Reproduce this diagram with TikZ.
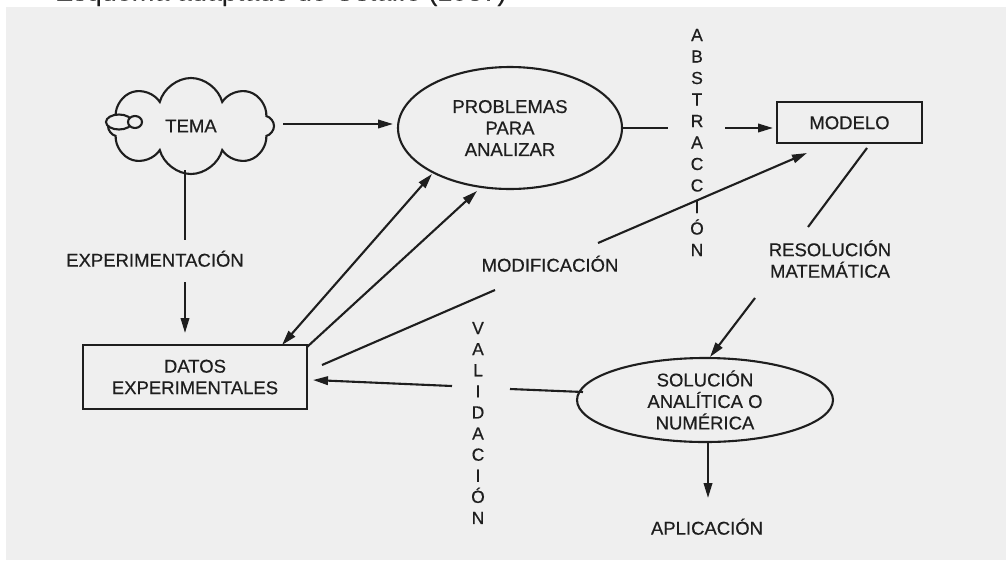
\documentclass[tikz,border=0pt]{standalone}
\usepackage{fontspec}
\setmainfont[FakeBold=0.5]{Liberation Sans}
\usetikzlibrary{arrows.meta,shapes.geometric,shapes.symbols}
\definecolor{paper}{HTML}{EFEFEF}
\definecolor{ink}{HTML}{1E1E1E}
\begin{document}
\begin{tikzpicture}[x=1pt,y=-1pt,
  lbl/.style={font=\fontsize{18.5}{21.5}\selectfont, text=ink, align=center, inner sep=0pt},
  one/.style={lbl, text height=13.3pt, text depth=0pt},
  col/.style={font=\fontsize{17.5}{#1}\selectfont, text=ink, align=center, inner sep=0pt},
  wire/.style={draw=ink, line width=2.1pt},
  tip/.tip={Triangle[length=15pt,width=8.5pt]},
  arr/.style={wire, -tip},
  darr/.style={wire, tip-tip},
  framed/.style={draw=ink, line width=2.1pt},
]
\useasboundingbox (0,0) rectangle (1006,560);
\clip (0,0) rectangle (1006,560);
\fill[white] (0,0) rectangle (1006,560);
\fill[paper] (6,7) rectangle (1006,560);

% caption line running off the top edge
\node[anchor=base west, font=\fontsize{27}{27}\selectfont, text=ink, inner sep=0pt] (caption) at (55,0.5) {Esquema adaptado de Ostaffe (1987)};

% main nodes
\node[cloud, cloud puffs=8, cloud puff arc=150, aspect=1.8, framed, fill=paper,
      minimum width=166pt, minimum height=96pt, lbl] (tema) at (191,126) {TEMA};
\fill[paper, framed] (119,122) ellipse [x radius=13, y radius=7.5];
\fill[paper, framed] (135,122) ellipse [x radius=7, y radius=6];

\node[ellipse, framed, minimum width=224pt, minimum height=122pt, lbl] (prob) at (510,128) {PROBLEMAS\\PARA\\ANALIZAR};
\node[rectangle, framed, minimum width=145pt, minimum height=41pt, one] (modelo) at (849.5,122.5) {MODELO};
\node[rectangle, framed, minimum width=224pt, minimum height=64pt, lbl] (datos) at (195,377) {DATOS\\EXPERIMENTALES};
\node[ellipse, framed, minimum width=256pt, minimum height=84pt, lbl] (sol) at (705,400) {SOLUCIÓN\\ANALÍTICA O\\NUMÉRICA};

% labels
\node[one] (exper) at (155,260) {EXPERIMENTACIÓN};
\node[one] (modif) at (550,265) {MODIFICACIÓN};
\node[lbl] (resol) at (830,259) {RESOLUCIÓN\\MATEMÁTICA};
\node[one] (aplic) at (707,528) {APLICACIÓN};
\node[col=21.5] (abstr) at (697,142.5) {A\\B\\S\\T\\R\\A\\C\\C\\I\\Ó\\N};
\node[col=21.1] (valid) at (478,423) {V\\A\\L\\I\\D\\A\\C\\I\\Ó\\N};

% connectors
\draw[arr] ([shift={(92,-2)}]tema.center) -- ([shift={(-117,-4)}]prob.center);
\draw[wire] ([shift={(-6,44)}]tema.center) -- ([shift={(30,-20)}]exper.center);
\draw[arr] ([shift={(30,22)}]exper.center) -- ([shift={(-10,-44)}]datos.center);
\draw[darr] ([shift={(87,-32)}]datos.center) -- ([shift={(-78,46)}]prob.center);
\draw[arr] ([shift={(112,-30)}]datos.center) -- ([shift={(-33,63)}]prob.center);
\draw[wire] ([shift={(113,0)}]prob.center) -- ([shift={(-29,-14.5)}]abstr.center);
\draw[arr] ([shift={(28,-14.5)}]abstr.center) -- ([shift={(-76.5,5.5)}]modelo.center);
\draw[arr] ([shift={(48,-22)}]modif.center) -- ([shift={(-42.5,30.5)}]modelo.center);
\draw[wire] ([shift={(17.5,25.5)}]modelo.center) -- ([shift={(-22,-32)}]resol.center);
\draw[arr] ([shift={(-75,39)}]resol.center) -- ([shift={(5,-43)}]sol.center);
\draw[wire] ([shift={(-55,25)}]modif.center) -- ([shift={(127,-12)}]datos.center);
\draw[wire] ([shift={(-122,-8)}]sol.center) -- ([shift={(32,-34)}]valid.center);
\draw[arr] ([shift={(-26,-37)}]valid.center) -- ([shift={(118,3)}]datos.center);
\draw[arr] ([shift={(3,42)}]sol.center) -- ([shift={(1,-30)}]aplic.center);
\end{tikzpicture}
\end{document}
